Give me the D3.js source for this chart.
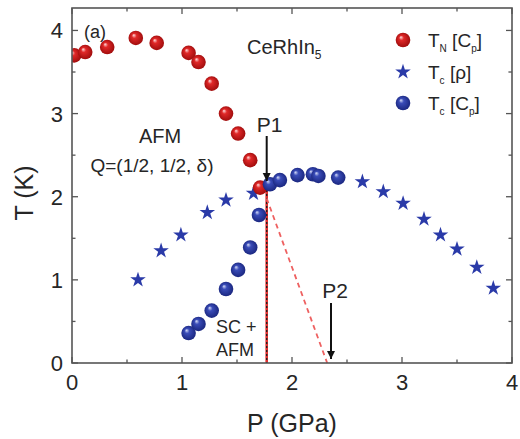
<!DOCTYPE html>
<html>
<head>
<meta charset="utf-8">
<script src="https://cdn.jsdelivr.net/npm/d3@7"></script>
<style>
  body { margin: 0; background: #fff; }
  svg text { font-family: "Liberation Sans", Arial, sans-serif; fill: #262626; }
</style>
</head>
<body>
<div id="chart"></div>
<script>
// T_N from specific heat (red spheres)
var tnP = [0.02, 0.12, 0.32, 0.58, 0.77, 1.06, 1.15, 1.27, 1.40, 1.51, 1.62, 1.71];
var tnT = [3.70, 3.74, 3.80, 3.91, 3.85, 3.73, 3.62, 3.36, 3.00, 2.76, 2.44, 2.11];

// T_c from resistivity (blue stars)
var tcRhoP = [0.60, 0.81, 0.99, 1.23, 1.40, 1.65, 2.64, 2.83, 3.01, 3.20, 3.35, 3.50, 3.68, 3.83];
var tcRhoT = [1.00, 1.35, 1.54, 1.81, 1.96, 2.04, 2.18, 2.06, 1.92, 1.73, 1.54, 1.37, 1.15, 0.90];

// T_c from specific heat (blue spheres)
var tcCpP = [1.06, 1.15, 1.27, 1.40, 1.51, 1.62, 1.70, 1.80, 1.89, 2.05, 2.19, 2.24, 2.42];
var tcCpT = [0.36, 0.47, 0.63, 0.89, 1.12, 1.39, 1.78, 2.15, 2.20, 2.26, 2.27, 2.25, 2.23];

var xTicks = [0, 1, 2, 3, 4];
var yTicks = [0, 1, 2, 3, 4];
var p1 = 1.77, p2 = 2.32;

var width = 520, height = 439;
var plotL = 72, plotR = 512, plotT = 8, plotB = 363;

var svg = d3.select("#chart").append("svg")
    .attr("width", width)
    .attr("height", height);

var x = d3.scaleLinear().domain([0, 4]).range([plotL, plotR]);
var y = d3.scaleLinear().domain([0, 4.27]).range([plotB, plotT]);

var defs = svg.append("defs");
function ball(id, c0, c1, c2) {
  var g = defs.append("radialGradient").attr("id", id)
      .attr("cx", "50%").attr("cy", "50%").attr("r", "55%")
      .attr("fx", "35%").attr("fy", "30%");
  g.append("stop").attr("offset", "0%").attr("stop-color", c0);
  g.append("stop").attr("offset", "30%").attr("stop-color", c1);
  g.append("stop").attr("offset", "100%").attr("stop-color", c2);
}
ball("red", "#ffe0e0", "#e02828", "#9a0a0a");
ball("blue", "#d8def8", "#3a4cb8", "#17237a");

defs.append("clipPath").attr("id", "plotclip")
  .append("rect").attr("x", plotL).attr("y", plotT)
    .attr("width", plotR - plotL).attr("height", plotB - plotT);

defs.append("marker").attr("id", "arrow")
    .attr("viewBox", "0 0 10 10").attr("refX", 10).attr("refY", 5)
    .attr("markerWidth", 4).attr("markerHeight", 5.5)
    .attr("markerUnits", "strokeWidth")
    .attr("orient", "auto")
  .append("path").attr("d", "M0,0L10,5L0,10Z").attr("fill", "#111");

// phase lines
svg.append("line")
    .attr("x1", x(p1)).attr("x2", x(p1)).attr("y1", y(2.08)).attr("y2", y(0))
    .attr("stroke", "#e03030").attr("stroke-width", 2.6);
svg.append("line")
    .attr("x1", x(p1)).attr("x2", x(p1)).attr("y1", y(2.08)).attr("y2", y(0))
    .attr("stroke", "#222").attr("stroke-width", 1.4).attr("stroke-dasharray", "2,2");
svg.append("line")
    .attr("x1", x(p1)).attr("x2", x(p2)).attr("y1", y(1.98)).attr("y2", y(0))
    .attr("stroke", "#ee6060").attr("stroke-width", 1.8).attr("stroke-dasharray", "5,4");

// data
var pts = svg.append("g").attr("clip-path", "url(#plotclip)");
pts.append("g").selectAll("path").data(tcRhoP).enter().append("path")
    .attr("transform", (d, i) => "translate(" + x(d) + "," + y(tcRhoT[i]) + ")")
    .attr("d", d3.symbol().type(d3.symbolStar).size(75))
    .attr("fill", "#2a3aa8");
pts.append("g").selectAll("circle").data(tnP).enter().append("circle")
    .attr("cx", d => x(d)).attr("cy", (d, i) => y(tnT[i])).attr("r", 7.3)
    .attr("fill", "url(#red)");
pts.append("g").selectAll("circle").data(tcCpP).enter().append("circle")
    .attr("cx", d => x(d)).attr("cy", (d, i) => y(tcCpT[i])).attr("r", 7.3)
    .attr("fill", "url(#blue)");

// frame
svg.append("rect")
    .attr("x", plotL).attr("y", plotT)
    .attr("width", plotR - plotL).attr("height", plotB - plotT)
    .attr("fill", "none").attr("stroke", "#555").attr("stroke-width", 1.6);

// inward ticks on all four sides
var xMinor = d3.range(0, 4.01, 0.5), yMinor = d3.range(0, 4.27, 0.5);
var tk = svg.append("g").attr("stroke", "#555").attr("stroke-width", 1.3);
xMinor.forEach(function (v) {
  var len = v % 1 === 0 ? 6 : 3.5;
  tk.append("line").attr("x1", x(v)).attr("x2", x(v)).attr("y1", plotB).attr("y2", plotB - len);
  tk.append("line").attr("x1", x(v)).attr("x2", x(v)).attr("y1", plotT).attr("y2", plotT + len);
});
yMinor.forEach(function (v) {
  var len = v % 1 === 0 ? 6 : 3.5;
  tk.append("line").attr("y1", y(v)).attr("y2", y(v)).attr("x1", plotL).attr("x2", plotL + len);
  tk.append("line").attr("y1", y(v)).attr("y2", y(v)).attr("x1", plotR).attr("x2", plotR - len);
});

svg.append("g").selectAll("text").data(xTicks).enter().append("text")
    .attr("x", d => x(d)).attr("y", plotB + 27)
    .attr("text-anchor", "middle").attr("font-size", 22)
    .text(d => d);
svg.append("g").selectAll("text").data(yTicks).enter().append("text")
    .attr("x", plotL - 9).attr("y", d => y(d) + 8)
    .attr("text-anchor", "end").attr("font-size", 22)
    .text(d => d);

svg.append("text").attr("x", 292).attr("y", 432)
    .attr("text-anchor", "middle").attr("font-size", 25).text("P (GPa)");
svg.append("text")
    .attr("transform", "translate(33," + 193 + ") rotate(-90)")
    .attr("text-anchor", "middle").attr("font-size", 25).text("T (K)");

// arrows
svg.append("line").attr("x1", x(p1)).attr("x2", x(p1)).attr("y1", 136).attr("y2", 181)
    .attr("stroke", "#111").attr("stroke-width", 2).attr("marker-end", "url(#arrow)");
svg.append("text").attr("x", x(p1) + 3).attr("y", 132).attr("text-anchor", "middle")
    .attr("font-size", 21).text("P1");
svg.append("line").attr("x1", 331).attr("x2", 331).attr("y1", 303).attr("y2", 359)
    .attr("stroke", "#111").attr("stroke-width", 2).attr("marker-end", "url(#arrow)");
svg.append("text").attr("x", 335).attr("y", 298).attr("text-anchor", "middle")
    .attr("font-size", 21).text("P2");

// annotations
svg.append("text").attr("x", 84).attr("y", 38).attr("font-size", 18).text("(a)");
var ce = svg.append("text").attr("x", 247).attr("y", 54).attr("font-size", 20);
ce.append("tspan").text("CeRhIn");
ce.append("tspan").attr("font-size", 12).attr("dy", 5).text("5");
svg.append("text").attr("x", 160).attr("y", 143).attr("text-anchor", "middle")
    .attr("font-size", 20).text("AFM");
svg.append("text").attr("x", 152).attr("y", 172).attr("text-anchor", "middle")
    .attr("font-size", 19).text("Q=(1/2, 1/2, \u03b4)");
svg.append("text").attr("x", 216).attr("y", 333).attr("font-size", 18).text("SC +");
svg.append("text").attr("x", 216).attr("y", 356).attr("font-size", 18).text("AFM");

// legend
var legY = [40, 72, 103];
var leg = svg.append("g");
leg.append("circle").attr("cx", 403).attr("cy", legY[0]).attr("r", 7.3).attr("fill", "url(#red)");
leg.append("path").attr("transform", "translate(403," + legY[1] + ")")
    .attr("d", d3.symbol().type(d3.symbolStar).size(75)).attr("fill", "#2a3aa8");
leg.append("circle").attr("cx", 403).attr("cy", legY[2]).attr("r", 7.3).attr("fill", "url(#blue)");
var legText = [["N", "C", "p"], ["c", "\u03c1", ""], ["c", "C", "p"]];
legText.forEach(function (t, i) {
  var tx = leg.append("text").attr("x", 428).attr("y", legY[i] + 7).attr("font-size", 19);
  tx.append("tspan").text("T");
  tx.append("tspan").attr("font-size", 10).attr("dy", 5).text(t[0]);
  tx.append("tspan").attr("dy", -5).text(" [" + t[1]);
  if (t[2]) {
    tx.append("tspan").attr("font-size", 10).attr("dy", 5).text(t[2]);
    tx.append("tspan").attr("dy", -5).text("]");
  } else {
    tx.append("tspan").text("]");
  }
});
</script>
</body>
</html>
